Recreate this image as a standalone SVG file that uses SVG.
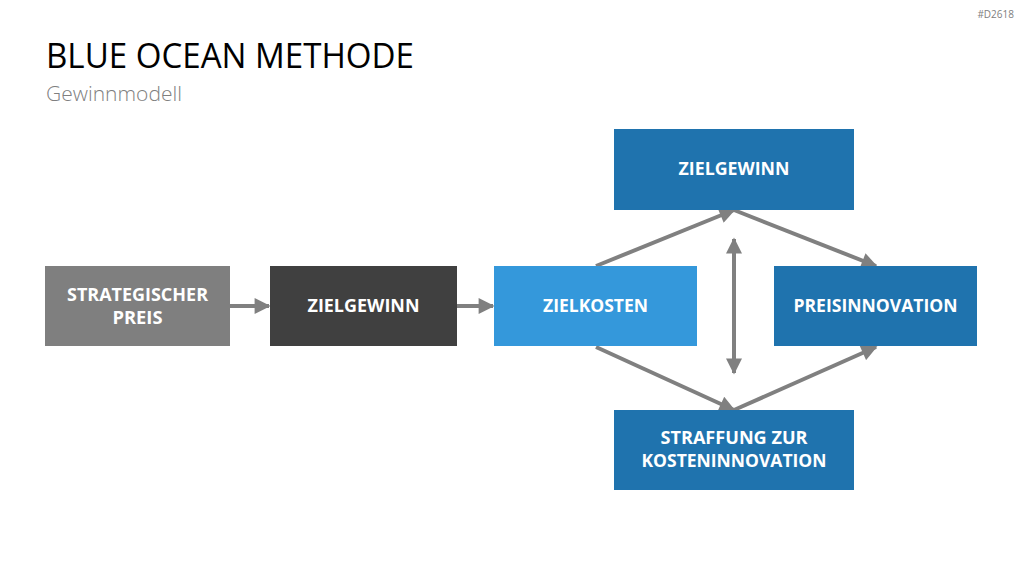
<svg xmlns="http://www.w3.org/2000/svg" width="1024" height="576" viewBox="0 0 1024 576">
<style>
.t{font-family:"Open Sans","Liberation Sans",sans-serif;font-weight:bold;font-size:18px;fill:#fff;text-anchor:middle}
.c{stroke:#808080;stroke-width:4;fill:none}
</style>
<defs>
<marker id="ah" viewBox="0 0 10 10" refX="9" refY="5" markerWidth="4.5" markerHeight="4" orient="auto-start-reverse" markerUnits="strokeWidth">
<path d="M0,0L10,5L0,10z" fill="#808080"/>
</marker>
</defs>
<rect width="1024" height="576" fill="#fff"/>
<text x="1014" y="18" font-family="Open Sans,Liberation Sans,sans-serif" font-size="10" fill="#808080" text-anchor="end">#D2618</text>
<text x="46" y="68" font-family="Open Sans,Liberation Sans,sans-serif" font-size="35" fill="#000" textLength="368" lengthAdjust="spacingAndGlyphs">BLUE OCEAN METHODE</text>
<text x="46" y="101" font-family="Open Sans,Liberation Sans,sans-serif" font-size="21" font-weight="300" fill="#7f7f7f" textLength="136" lengthAdjust="spacingAndGlyphs">Gewinnmodell</text>
<g id="connectors">
<line class="c" x1="230" y1="306" x2="269" y2="306" marker-end="url(#ah)"/>
<line class="c" x1="457" y1="306" x2="493" y2="306" marker-end="url(#ah)"/>
<line class="c" x1="596" y1="266" x2="734" y2="210" marker-end="url(#ah)"/>
<line class="c" x1="734" y1="210" x2="876" y2="266" marker-end="url(#ah)"/>
<line class="c" x1="596" y1="347" x2="734" y2="410" marker-end="url(#ah)"/>
<line class="c" x1="734" y1="410" x2="876" y2="347" marker-end="url(#ah)"/>
<line class="c" x1="734" y1="239" x2="734" y2="373" marker-start="url(#ah)" marker-end="url(#ah)"/>
</g>
<g id="strategischer-preis">
<rect x="45" y="266" width="185" height="80" fill="#7f7f7f"/>
<text class="t" x="137.5" y="301" textLength="141" lengthAdjust="spacingAndGlyphs">STRATEGISCHER</text>
<text class="t" x="137.5" y="324" textLength="50" lengthAdjust="spacingAndGlyphs">PREIS</text>
</g>
<g id="zielgewinn-1">
<rect x="270" y="266" width="187" height="80" fill="#404040"/>
<text class="t" x="363.5" y="312" textLength="112" lengthAdjust="spacingAndGlyphs">ZIELGEWINN</text>
</g>
<g id="zielkosten">
<rect x="494" y="266" width="203" height="80" fill="#3498db"/>
<text class="t" x="595.5" y="312" textLength="105" lengthAdjust="spacingAndGlyphs">ZIELKOSTEN</text>
</g>
<g id="zielgewinn-2">
<rect x="614" y="129" width="240" height="81" fill="#1f73ae"/>
<text class="t" x="734" y="175" textLength="111" lengthAdjust="spacingAndGlyphs">ZIELGEWINN</text>
</g>
<g id="preisinnovation">
<rect x="774" y="266" width="203" height="80" fill="#1f73ae"/>
<text class="t" x="875.5" y="312" textLength="164" lengthAdjust="spacingAndGlyphs">PREISINNOVATION</text>
</g>
<g id="straffung">
<rect x="614" y="410" width="240" height="80" fill="#1f73ae"/>
<text class="t" x="734" y="444" textLength="147" lengthAdjust="spacingAndGlyphs">STRAFFUNG ZUR</text>
<text class="t" x="734" y="467" textLength="185" lengthAdjust="spacingAndGlyphs">KOSTENINNOVATION</text>
</g>
</svg>
